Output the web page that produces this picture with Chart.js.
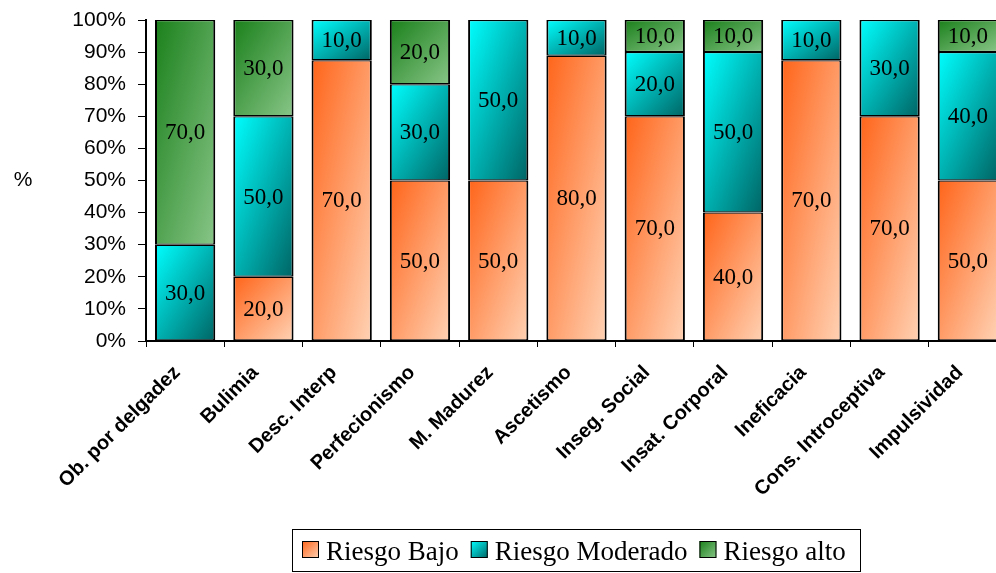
<!DOCTYPE html>
<html lang="es">
<head>
<meta charset="utf-8">
<title>Niveles de riesgo por escala</title>
<script src="https://cdn.jsdelivr.net/npm/chart.js@4.4.0/dist/chart.umd.min.js"></script>
<style>
  html, body { margin: 0; padding: 0; background: #fff; overflow: hidden; width: 996px; height: 573px; }
  #grafico { display: block; }
</style>
</head>
<body>
<canvas id="grafico" width="1008" height="573"></canvas>
<script>
// Escalas evaluadas
const categorias = [
  'Ob. por delgadez', 'Bulimia', 'Desc. Interp', 'Perfecionismo', 'M. Madurez',
  'Ascetismo', 'Inseg. Social', 'Insat. Corporal', 'Ineficacia',
  'Cons. Introceptiva', 'Impulsividad'
];

// Porcentaje de casos en cada nivel de riesgo
const riesgoBajo     = [0, 20, 70, 50, 50, 80, 70, 40, 70, 70, 50];
const riesgoModerado = [30, 50, 10, 30, 50, 10, 20, 50, 10, 30, 40];
const riesgoAlto     = [70, 30, 0, 20, 0, 0, 10, 10, 0, 0, 10];

const nombresSeries = ['Riesgo Bajo', 'Riesgo Moderado', 'Riesgo alto'];
const etiquetasY = ['0%', '10%', '20%', '30%', '40%', '50%', '60%', '70%', '80%', '90%', '100%'];

// Degradados (esquina superior izquierda -> inferior derecha)
const coloresSeries = [
  ['#FF6419', '#FFD2B4'],
  ['#00FFFF', '#006464'],
  ['#1A801A', '#88C588']
];

const series = [riesgoBajo, riesgoModerado, riesgoAlto];

// Cada columna se reparte al 100 %
const totales = categorias.map((_, i) => series.reduce((s, v) => s + v[i], 0));
const partes = series.map(v => v.map((x, i) => totales[i] ? x / totales[i] * 100 : 0));

const ANCHO_BARRA = 0.77;

function diagonal(c, x0, y0, w, h, colores) {
  const t = 2 / (1 / (w * w) + 1 / (h * h));
  const g = c.createLinearGradient(x0, y0, x0 + t / w, y0 + t / h);
  g.addColorStop(0, colores[0]);
  g.addColorStop(1, colores[1]);
  return g;
}

function degradado(k) {
  return (ctx) => {
    const chart = ctx.chart;
    const xs = chart.scales.x, ys = chart.scales.y;
    if (!chart.chartArea || !xs || !ys || ctx.type !== 'data') return coloresSeries[k][0];
    const i = ctx.dataIndex;
    let base = 0;
    for (let d = 0; d < k; d++) base += partes[d][i];
    const cima = base + partes[k][i];
    const ancho = xs.width / categorias.length * ANCHO_BARRA;
    const x0 = xs.getPixelForValue(i) - ancho / 2;
    const y0 = ys.getPixelForValue(cima);
    const y1 = ys.getPixelForValue(base);
    return diagonal(chart.ctx, x0, y0, ancho, Math.max(y1 - y0, 1), coloresSeries[k]);
  };
}

// Valores escritos en el centro de cada tramo
const rotulos = {
  id: 'rotulos',
  afterDatasetsDraw(chart) {
    const c = chart.ctx;
    c.save();
    c.font = '23px "Liberation Serif"';
    c.fillStyle = '#000';
    c.textAlign = 'center';
    c.textBaseline = 'middle';
    series.forEach((valores, k) => {
      const meta = chart.getDatasetMeta(k);
      meta.data.forEach((el, i) => {
        if (!valores[i]) return;
        const p = el.getProps(['x', 'y', 'base'], true);
        c.fillText(valores[i].toFixed(1).replace('.', ','), p.x, (p.y + p.base) / 2 + 1);
      });
    });
    c.restore();
  }
};

// Título del eje y leyenda enmarcada
const extras = {
  id: 'extras',
  afterDraw(chart) {
    const c = chart.ctx;
    c.save();
    c.fillStyle = '#000';
    c.font = '21px "Liberation Sans"';
    c.textAlign = 'center';
    c.textBaseline = 'middle';
    c.fillText('%', 23, 180);

    const caja = { x: 292, y: 529, w: 568, h: 42 };
    c.strokeStyle = '#000';
    c.lineWidth = 1;
    c.strokeRect(caja.x + 0.5, caja.y + 0.5, caja.w, caja.h);

    c.font = '27px "Liberation Serif"';
    c.textAlign = 'left';
    c.textBaseline = 'alphabetic';
    let x = 302;
    const lado = 17, ySq = 541;
    nombresSeries.forEach((nombre, k) => {
      c.fillStyle = diagonal(c, x, ySq, lado, lado, coloresSeries[k]);
      c.fillRect(x, ySq, lado, lado);
      c.strokeRect(x + 0.5, ySq + 0.5, lado - 1, lado - 1);
      c.fillStyle = '#000';
      c.fillText(nombre, x + 24, 560);
      x += 24 + c.measureText(nombre).width + 12;
    });
    c.restore();
  }
};

new Chart(document.getElementById('grafico'), {
  type: 'bar',
  data: {
    labels: categorias,
    datasets: partes.map((datos, k) => ({
      label: nombresSeries[k],
      data: datos,
      backgroundColor: degradado(k),
      borderColor: '#000',
      borderWidth: { left: 2, right: 2, top: 1.25, bottom: 1.25 },
      borderSkipped: false,
      barPercentage: ANCHO_BARRA,
      categoryPercentage: 1
    }))
  },
  options: {
    responsive: false,
    devicePixelRatio: 1,
    animation: false,
    layout: { padding: { top: 20, right: 1, left: 0, bottom: 0 } },
    plugins: {
      legend: { display: false },
      tooltip: { enabled: false },
      title: { display: false }
    },
    scales: {
      x: {
        stacked: true,
        afterFit(s) { s.height = 232; },
        grid: { display: true, drawOnChartArea: false, drawTicks: true, tickLength: 6, color: '#000', offset: true },
        border: { display: true, color: '#000', width: 2 },
        ticks: {
          autoSkip: false,
          minRotation: 45,
          maxRotation: 45,
          padding: 14,
          labelOffset: -8,
          color: '#000',
          font: { family: '"Liberation Sans"', size: 20, weight: 'bold' }
        }
      },
      y: {
        stacked: true,
        min: 0,
        max: 100,
        afterFit(s) {
          s.width = 146;
          s.paddingTop = 0;
          s.paddingBottom = 0;
        },
        grid: { display: true, drawOnChartArea: false, drawTicks: true, tickLength: 8, color: '#000' },
        border: { display: true, color: '#000', width: 2 },
        ticks: {
          stepSize: 10,
          padding: 12,
          color: '#000',
          font: { family: '"Liberation Sans"', size: 21 },
          callback: (v, i) => etiquetasY[i]
        }
      }
    }
  },
  plugins: [rotulos, extras]
});
</script>
</body>
</html>
